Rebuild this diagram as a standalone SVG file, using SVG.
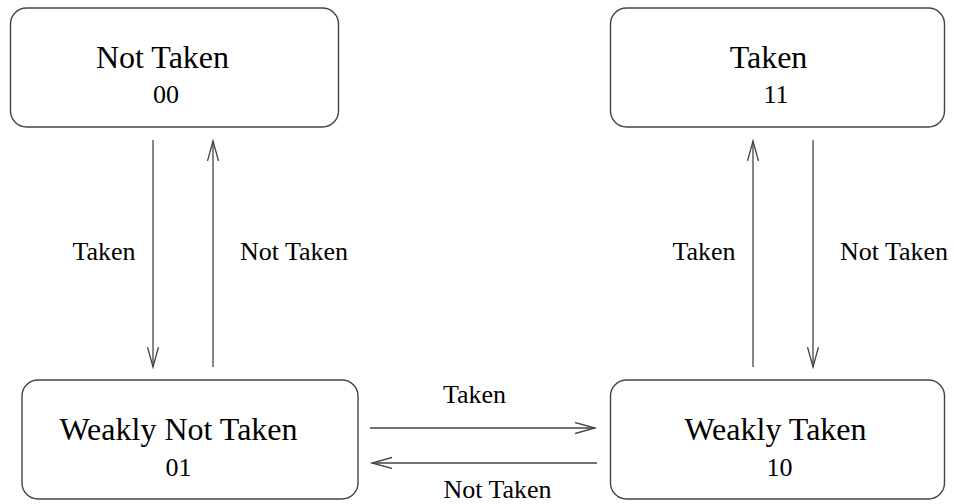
<svg xmlns="http://www.w3.org/2000/svg" width="956" height="504" viewBox="0 0 956 504">
<style>
.box{fill:#fff;stroke:#444;stroke-width:1.4}
.t{font-family:"Liberation Serif","Times New Roman",serif;fill:#000;text-anchor:middle}
.title{font-size:32px}
.code{font-size:26px}
.lbl{font-size:26px}
.edge{stroke:#444;stroke-width:1.3;fill:none;marker-end:url(#ah)}
</style>
<defs>
<marker id="ah" markerUnits="userSpaceOnUse" markerWidth="24" markerHeight="14" refX="20" refY="6" orient="auto">
<path d="M0,0.5 L20,6 L0,11.5" fill="none" stroke="#444" stroke-width="1.3"/>
</marker>
</defs>
<rect width="956" height="504" fill="#fff"/>
<g id="node-not-taken">
<rect class="box" x="10.5" y="8" width="328" height="119" rx="16"/>
<text class="t title" x="162.5" y="68">Not Taken</text>
<text class="t code" x="166" y="103">00</text>
</g>
<g id="node-taken">
<rect class="box" x="610.5" y="8" width="334" height="119" rx="16"/>
<text class="t title" x="768.5" y="68">Taken</text>
<text class="t code" x="776" y="103">11</text>
</g>
<g id="node-weakly-not-taken">
<rect class="box" x="22" y="380" width="336" height="119" rx="16"/>
<text class="t title" x="178.5" y="440">Weakly Not Taken</text>
<text class="t code" x="178.5" y="476">01</text>
</g>
<g id="node-weakly-taken">
<rect class="box" x="610.5" y="380" width="334" height="119" rx="16"/>
<text class="t title" x="775.5" y="440">Weakly Taken</text>
<text class="t code" x="779.5" y="476">10</text>
</g>
<g id="connectors">
<line class="edge" x1="153" y1="140" x2="153" y2="367"/>
<line class="edge" x1="213" y1="367" x2="213" y2="141"/>
<line class="edge" x1="753" y1="367" x2="753" y2="141"/>
<line class="edge" x1="813" y1="140" x2="813" y2="367"/>
<line class="edge" x1="370" y1="428" x2="595" y2="428"/>
<line class="edge" x1="597" y1="463" x2="372" y2="463"/>
<text class="t lbl" x="104" y="260">Taken</text>
<text class="t lbl" x="294" y="260">Not Taken</text>
<text class="t lbl" x="704" y="260">Taken</text>
<text class="t lbl" x="894" y="260">Not Taken</text>
<text class="t lbl" x="474.5" y="403">Taken</text>
<text class="t lbl" x="497.5" y="498">Not Taken</text>
</g>
</svg>
